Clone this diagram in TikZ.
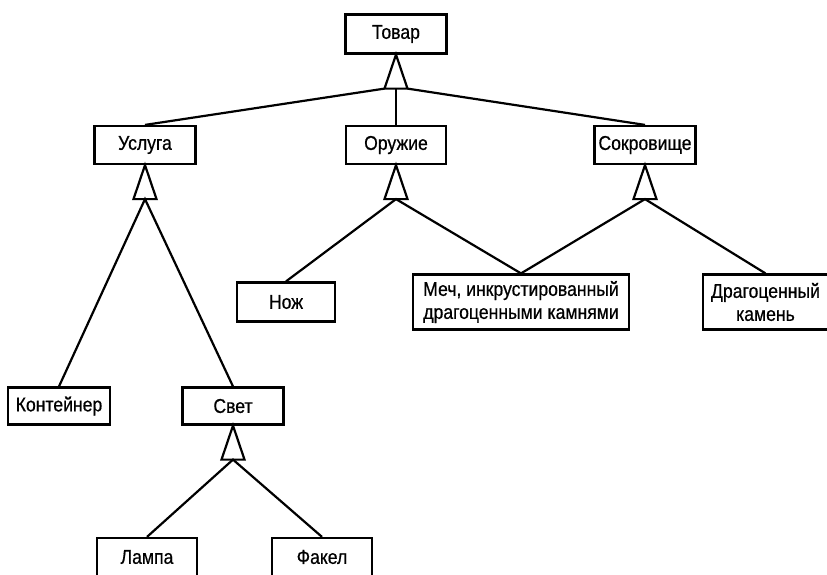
\documentclass[tikz,border=0pt]{standalone}
\usepackage{fontspec}
\setmainfont{Liberation Sans}[FakeStretch=0.88, FakeBold=0.6]
\usetikzlibrary{calc}
\begin{document}
\begin{tikzpicture}[x=1pt,y=-1pt,
  every node/.style={font=\fontsize{20}{23}\selectfont},
  cls/.style={draw, line width=2.2pt, inner sep=0pt, minimum height=38pt, align=center},
  link/.style={line width=2.2pt},
  gen/.style={line width=2.2pt, fill=white, line join=miter}]
\useasboundingbox (0,0) rectangle (827,574);
\clip (0,0) rectangle (827,574);

% classes
\node[cls, minimum width=101pt, minimum height=39pt] (tovar) at (396,34) {Товар};
\node[cls, minimum width=101pt] (usluga) at (145,145) {Услуга};
\node[cls, minimum width=100pt] (oruzhie) at (396,145) {Оружие};
\node[cls, minimum width=101pt] (sokr) at (645,145) {Сокровище};
\node[cls, minimum width=98pt, minimum height=39pt] (nozh) at (286,302) {Нож};
\node[cls, minimum width=216pt, minimum height=55pt] (mech) at (521,302) {Меч, инкрустированный\\драгоценными камнями};
\node[cls, minimum width=125pt, minimum height=55pt] (drag) at (765.5,302) {Драгоценный\\камень};
\node[cls, minimum width=102pt, minimum height=37pt] (kont) at (59,406) {Контейнер};
\node[cls, minimum width=101pt, minimum height=37pt] (svet) at (233,406) {Свет};
\node[cls, minimum width=100pt] (lampa) at (147,557) {Лампа};
\node[cls, minimum width=100pt] (fakel) at (322,557) {Факел};

% generalisation triangles under each parent
\foreach \p in {tovar,usluga,oruzhie,sokr,svet}{
  \draw[gen] (\p.south) -- ++(-11.5,34) coordinate (\p-l) -- ++(23,0) coordinate (\p-r) -- cycle;
  \coordinate (\p-b) at ($(\p-l)!0.5!(\p-r)$);
}

% inheritance links
\draw[link] (usluga.north) -- (tovar-l);
\draw[link] (oruzhie.north) -- (tovar-b);
\draw[link] (sokr.north) -- (tovar-r);
\draw[link] (kont.north) -- (usluga-b) -- (svet.north);
\draw[link] (nozh.north) -- (oruzhie-b) -- (mech.north);
\draw[link] (mech.north) -- (sokr-b) -- (drag.north);
\draw[link] (lampa.north) -- (svet-b) -- (fakel.north);
\end{tikzpicture}
\end{document}
